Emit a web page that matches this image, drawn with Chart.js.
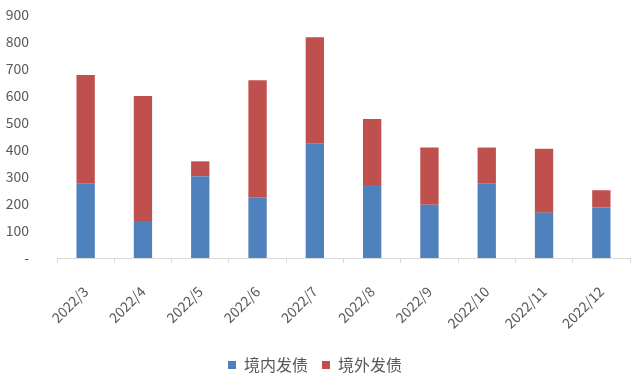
<!DOCTYPE html>
<html>
<head>
<meta charset="utf-8">
<script src="https://cdn.jsdelivr.net/npm/chart.js@4/dist/chart.umd.min.js"></script>
<style>
  body { margin: 0; background: #fff; }
  #wrap { width: 640px; height: 377px; }
</style>
</head>
<body>
<div id="wrap"><canvas id="chart"></canvas></div>
<script>
'use strict';

const months = ['2022/3', '2022/4', '2022/5', '2022/6', '2022/7', '2022/8', '2022/9', '2022/10', '2022/11', '2022/12'];
const domestic = [275, 137, 303, 225, 423, 270, 197, 275, 168, 187];
const overseas = [403, 463, 55, 433, 395, 245, 212, 134, 237, 64];
const seriesNames = ['境内发债', '境外发债'];

const textColor = '#595959';
const fontFamily = '"Microsoft YaHei", "Noto Sans CJK SC", sans-serif';

let canvasElem = document.getElementById('chart');

function renderChart() {
    const ctx = canvasElem.getContext('2d');

    new Chart(ctx, {
        type: 'bar',
        data: {
            labels: months,
            datasets: [
                {
                    label: seriesNames[0],
                    data: domestic,
                    backgroundColor: '#4F81BD',
                    barPercentage: 0.64,
                    categoryPercentage: 0.5
                },
                {
                    label: seriesNames[1],
                    data: overseas,
                    backgroundColor: '#C0504D',
                    barPercentage: 0.64,
                    categoryPercentage: 0.5
                }
            ]
        },
        options: {
            responsive: true,
            maintainAspectRatio: false,
            animation: false,
            layout: {
                autoPadding: false,
                padding: { left: 0, right: 10, top: 15, bottom: -6 }
            },
            plugins: {
                tooltip: { enabled: false },
                legend: {
                    position: 'bottom',
                    labels: {
                        color: textColor,
                        font: { family: fontFamily, size: 16 },
                        boxWidth: 8,
                        boxHeight: 8,
                        padding: 14
                    }
                }
            },
            scales: {
                x: {
                    stacked: true,
                    grid: {
                        offset: true,
                        drawOnChartArea: false,
                        color: '#d9d9d9',
                        tickLength: 5
                    },
                    border: { color: '#d9d9d9' },
                    ticks: {
                        color: textColor,
                        font: { family: fontFamily, size: 14 },
                        minRotation: 45,
                        maxRotation: 45,
                        padding: 20
                    },
                    afterFit: scale => { scale.height = 85; }
                },
                y: {
                    stacked: true,
                    min: 0,
                    max: 900,
                    grid: { display: false },
                    border: { display: false },
                    ticks: {
                        stepSize: 100,
                        padding: 20,
                        color: textColor,
                        font: { family: fontFamily, size: 14 },
                        callback: v => v === 0 ? '-' : v
                    },
                    afterFit: scale => {
                        scale.width = 57;
                        scale.paddingTop = 0;
                        scale.paddingBottom = 0;
                    }
                }
            }
        }
    });
}

renderChart();
</script>
</body>
</html>
